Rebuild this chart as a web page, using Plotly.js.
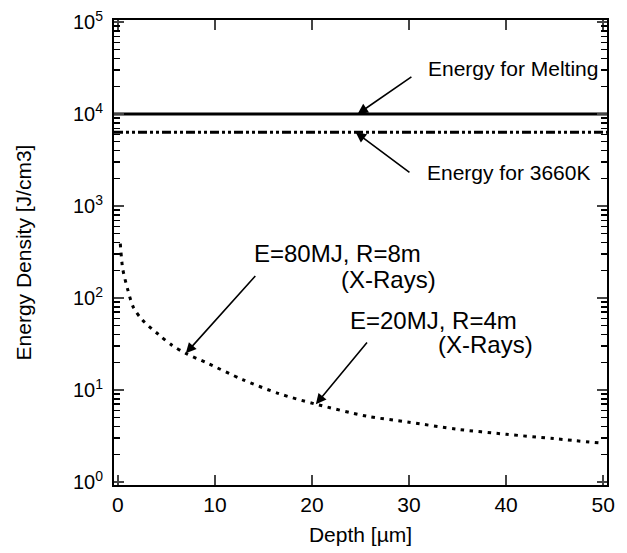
<!DOCTYPE html>
<html>
<head>
<meta charset="utf-8">
<script src="https://cdn.plot.ly/plotly-3.0.1.min.js"></script>
<style>html,body{margin:0;padding:0;background:#fff;}#chart{width:627px;height:553px;}</style>
</head>
<body>
<div id="chart"></div>
<script>
// Depth [µm] and energy density [J/cm3] of the X-ray curve
const depth = [0.25, 0.5, 1.0, 1.6, 2.5, 4.2, 5.6, 7.0, 9.2, 12.9, 16.5, 20.2, 25.6, 30, 34.9, 40, 44.9, 49.7];
const energyXray = [390, 208, 125, 79, 58, 40, 30.5, 25, 19.6, 12.9, 9.2, 7.1, 5.2, 4.46, 3.75, 3.3, 2.96, 2.65];
const lineX = [-0.4, 50.4];
const meltingLevel = [10000, 10000];
const level3660K = [6350, 6350];
const yTickVals = [1, 10, 100, 1000, 10000, 100000];
const yTickText = ['10<sup>0</sup>', '10<sup>1</sup>', '10<sup>2</sup>', '10<sup>3</sup>', '10<sup>4</sup>', '10<sup>5</sup>'];
const xTickVals = [0, 10, 20, 30, 40, 50];

const minorY = [];
for (let d = 0; d < 5; d++) for (let m = 2; m <= 9; m++) minorY.push(m * Math.pow(10, d));

const L = Math.log10;
const traces = [
  {x: lineX, y: meltingLevel, mode: 'lines', line: {color: '#000', width: 3}, hoverinfo: 'skip'},
  {x: lineX, y: level3660K, mode: 'lines', line: {color: '#000', width: 3, dash: '9px,3px,3px,3px,3px,3px'}, hoverinfo: 'skip'},
  {x: depth, y: energyXray, mode: 'lines', line: {color: '#000', width: 3, dash: '3.5px,5.5px', shape: 'spline', smoothing: 0.8}, hoverinfo: 'skip'}
];

const FAM = 'Liberation Sans, Arial, sans-serif';
const fontE = {family: FAM, size: 21, color: '#000'};
const fontR = {family: FAM, size: 24, color: '#000'};
function txt(x, y, t, f) {
  return {x: x, y: L(y), xref: 'x', yref: 'y', text: t, showarrow: false, xanchor: 'left', yanchor: 'middle', font: f};
}
function arr(x0, y0, x1, y1) {
  return {x: x1, y: L(y1), ax: x0, ay: L(y0), xref: 'x', yref: 'y', axref: 'x', ayref: 'y', text: '', showarrow: true,
    arrowhead: 2, arrowsize: 1.3, arrowwidth: 1.6, arrowcolor: '#000', standoff: 0, startstandoff: 0};
}

const layout = {
  width: 627, height: 553,
  margin: {l: 114, r: 20, t: 20, b: 68},
  paper_bgcolor: '#fff', plot_bgcolor: '#fff',
  showlegend: false,
  font: {family: FAM, size: 21, color: '#000'},
  xaxis: {
    range: [-0.4, 50.4], tickmode: 'array', tickvals: xTickVals, ticks: 'inside', ticklen: 10, tickwidth: 2,
    showline: true, linewidth: 2, linecolor: '#000', mirror: 'ticks', showgrid: false, zeroline: false,
    tickfont: {family: FAM, size: 21, color: '#000'},
    title: {text: 'Depth [µm]', font: {family: FAM, size: 21, color: '#000'}, standoff: 12}
  },
  yaxis: {
    type: 'log', range: [-0.033, 5.022], tickmode: 'array', tickvals: yTickVals, ticktext: yTickText,
    ticks: 'inside', ticklen: 10, tickwidth: 2, ticklabelstandoff: 5,
    minor: {tickmode: 'array', tickvals: minorY, ticks: 'inside', ticklen: 6, tickwidth: 1.5, tickcolor: '#000'},
    showline: true, linewidth: 2, linecolor: '#000', mirror: 'ticks', showgrid: false, zeroline: false,
    tickfont: {family: FAM, size: 20, color: '#000'},
    title: {text: 'Energy Density [J/cm3]', font: {family: FAM, size: 21, color: '#000'}, standoff: 36}
  },
  annotations: [
    txt(31.8, 31000, 'Energy for Melting', fontE),
    arr(30.4, 26000, 24.7, 10000),
    txt(31.6, 2310, 'Energy for 3660K', fontE),
    arr(30.2, 2250, 24.5, 6350),
    txt(13.8, 305, 'E=80MJ, R=8m', fontR),
    txt(22.8, 158, '(X-Rays)', fontR),
    arr(14.3, 180, 7.0, 25),
    txt(23.7, 57, 'E=20MJ, R=4m', fontR),
    txt(32.8, 31, '(X-Rays)', fontR),
    arr(25.8, 34, 20.4, 7.0)
  ]
};

Plotly.newPlot('chart', traces, layout, {staticPlot: true, displayModeBar: false});
</script>
</body>
</html>
